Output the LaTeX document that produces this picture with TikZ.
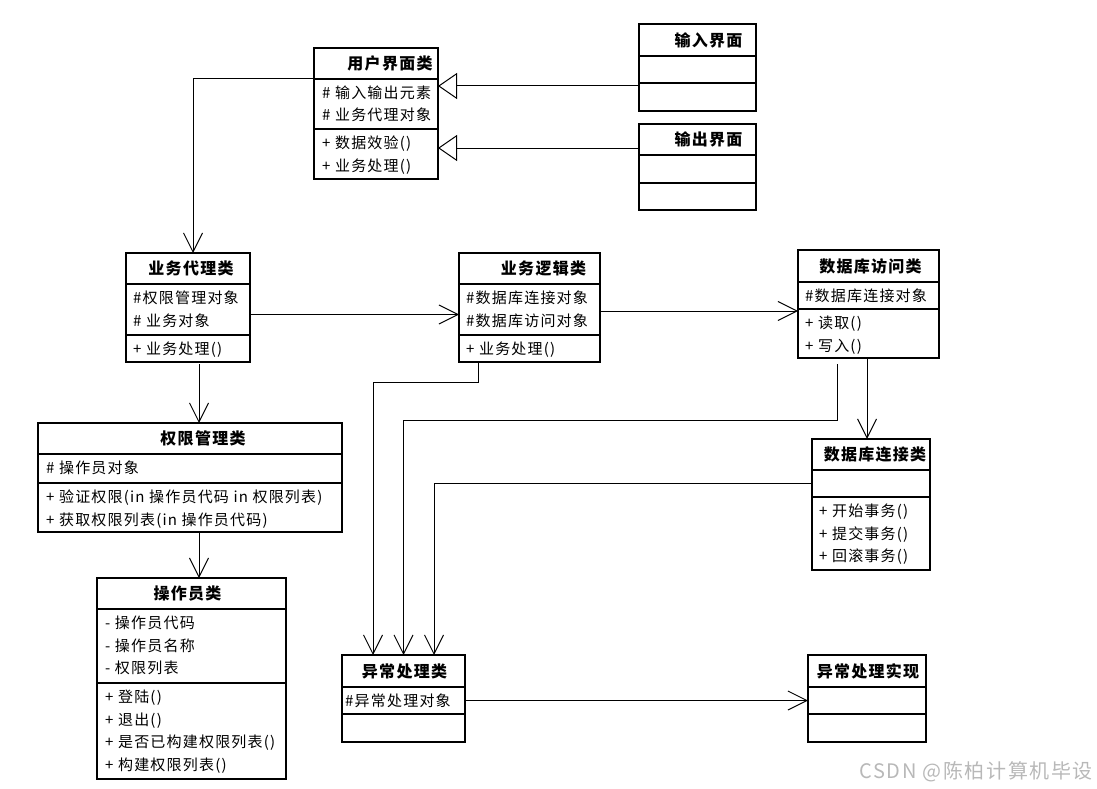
\documentclass[tikz,border=0pt]{standalone}
\usepackage{fontspec}
\setmainfont{Noto Sans CJK SC}[LetterSpace=8]
\usetikzlibrary{arrows.meta,fit}

\tikzset{
  part/.style={draw, line width=1.5pt, inner sep=0pt, outer sep=0pt},
  whole/.style={inner sep=0pt, outer sep=0pt},
  title/.style={font=\bfseries\fontsize{16}{16}\selectfont, inner sep=0pt},
  member/.style={anchor=base west, inner sep=0pt, font=\fontsize{15}{15}\selectfont},
  wmark/.style={text=black!28, inner sep=0pt, font=\fontsize{20}{20}\selectfont},
  dep/.style={line width=1pt, -{Straight Barb[length=19pt,width=19pt]}},
  gen/.style={line width=1pt, -{Triangle[length=19pt,width=26pt,fill=white]}},
}

% class box: name, left, top, width, head, attributes, methods
\newcommand{\umlclass}[7]{%
  \node[part, anchor=north west, minimum width=#4pt, minimum height=#5pt] (#1-t) at (#2,#3) {};
  \node[part, anchor=north, minimum width=#4pt, minimum height=#6pt] (#1-a) at (#1-t.south) {};
  \node[part, anchor=north, minimum width=#4pt, minimum height=#7pt] (#1-m) at (#1-a.south) {};
  \node[whole, fit=(#1-t)(#1-m)] (#1) {};
}
% lines of a compartment: compartment, left offset, list
\newcommand{\members}[3]{%
  \foreach \txt [count=\n] in {#3}
    \node[member] (#1-l\n) at ([shift={(#2,{19.5+22.5*(\n-1)})}]#1.north west) {\txt};
}

\begin{document}
\begin{tikzpicture}[x=1pt,y=-1pt]
  \useasboundingbox (0,0) rectangle (1097,789);

  % Classes
  \umlclass{uic}{314}{48}{124}{31}{50}{50}
  \umlclass{inif}{639}{24}{117}{32}{27}{28}
  \umlclass{outif}{639}{124}{117}{31}{28}{27}
  \umlclass{agent}{126}{253}{124}{31}{51}{27}
  \umlclass{perm}{38}{423}{304}{31}{29}{49}
  \umlclass{oper}{97}{578}{189}{31}{74}{96}
  \umlclass{logic}{459}{253}{141}{31}{51}{27}
  \umlclass{dba}{798}{250}{141}{32}{27}{49}
  \umlclass{dbc}{812}{439}{118}{31}{27}{73}
  \umlclass{exc}{342}{655}{123}{32}{27}{28}
  \umlclass{excimpl}{808}{655}{118}{32}{27}{28}

  % Titles
  \node[title] (uic-title)     at ([xshift=14pt]uic-t.center)    {用户界面类};
  \node[title] (inif-title)    at ([xshift=11pt]inif-t.center)   {输入界面};
  \node[title] (outif-title)   at ([xshift=11pt]outif-t.center)  {输出界面};
  \node[title] (agent-title)   at ([xshift=3pt]agent-t.center)   {业务代理类};
  \node[title] (perm-title)    at ([xshift=13pt]perm-t.center)   {权限管理类};
  \node[title] (oper-title)    at ([xshift=-4pt]oper-t.center)   {操作员类};
  \node[title] (logic-title)   at ([xshift=14pt]logic-t.center)  {业务逻辑类};
  \node[title] (dba-title)     at ([xshift=2pt]dba-t.center)     {数据库访问类};
  \node[title] (dbc-title)     at ([xshift=4pt]dbc-t.center)     {数据库连接类};
  \node[title] (exc-title)     at ([xshift=1pt]exc-t.center)     {异常处理类};
  \node[title] (excimpl-title) at ([xshift=1pt]excimpl-t.center) {异常处理实现};

  % Attributes and methods
  \members{uic-a}{8}{{\# 输入输出元素},{\# 业务代理对象}}
  \members{uic-m}{8}{{+ 数据效验()},{+ 业务处理()}}
  \members{agent-a}{7}{{\#权限管理对象},{\# 业务对象}}
  \members{agent-m}{7}{{+ 业务处理()}}
  \members{perm-a}{8}{{\# 操作员对象}}
  \members{perm-m}{8}{{+ 验证权限(in 操作员代码 in 权限列表)},{+ 获取权限列表(in 操作员代码)}}
  \members{oper-a}{8}{{- 操作员代码},{- 操作员名称},{- 权限列表}}
  \members{oper-m}{8}{{+ 登陆()},{+ 退出()},{+ 是否已构建权限列表()},{+ 构建权限列表()}}
  \members{logic-a}{7}{{\#数据库连接对象},{\#数据库访问对象}}
  \members{logic-m}{7}{{+ 业务处理()}}
  \members{dba-a}{7}{{\#数据库连接对象}}
  \members{dba-m}{7}{{+ 读取()},{+ 写入()}}
  \members{dbc-m}{7}{{+ 开始事务()},{+ 提交事务()},{+ 回滚事务()}}
  \members{exc-a}{3}{{\#异常处理对象}}

  % Generalisations
  \coordinate (in-p)  at ([yshift=-3pt]inif-m.north west);
  \coordinate (out-p) at ([yshift=7pt]outif-a.north west);
  \draw[gen] (in-p)  -- (in-p -| uic.east);
  \draw[gen] (out-p) -- (out-p -| uic.east);

  % Associations
  \draw[dep] (uic-t.south west) -| ([xshift=5pt]agent.north);

  \coordinate (al) at ([yshift=-5pt]agent-a.east);
  \draw[dep] (al) -- (al -| logic.west);

  \coordinate (ap) at ([xshift=11pt,yshift=-2pt]agent.south);
  \draw[dep] (ap) -- (ap |- perm.north);

  \coordinate (po) at ([xshift=9pt]perm.south);
  \draw[dep] (po) -- (po |- oper.north);

  \coordinate (ld) at ([yshift=-2pt]dba-m.north west);
  \draw[dep] (ld -| logic.east) -- (ld);

  \coordinate (dc) at ([xshift=-4pt]dbc.north);
  \draw[dep] (dc |- dba.south) -- (dc);

  % Links into the exception class
  \draw[dep] ([xshift=-51.5pt]logic.south) -- ++(0,20) -| ([xshift=-30.5pt]exc.north);
  \draw[dep] ([xshift=-31.5pt,yshift=-6pt]dba.south) -- ++(0,56) -| (exc.north);
  \draw[dep] (dbc-a.west) -| ([xshift=30.5pt]exc.north);

  \draw[dep] (exc-a.east) -- (exc-a.east -| excimpl.west);

  \node[wmark, anchor=east] (csdn) at (1093,772) {CSDN @陈柏计算机毕设};
\end{tikzpicture}
\end{document}
